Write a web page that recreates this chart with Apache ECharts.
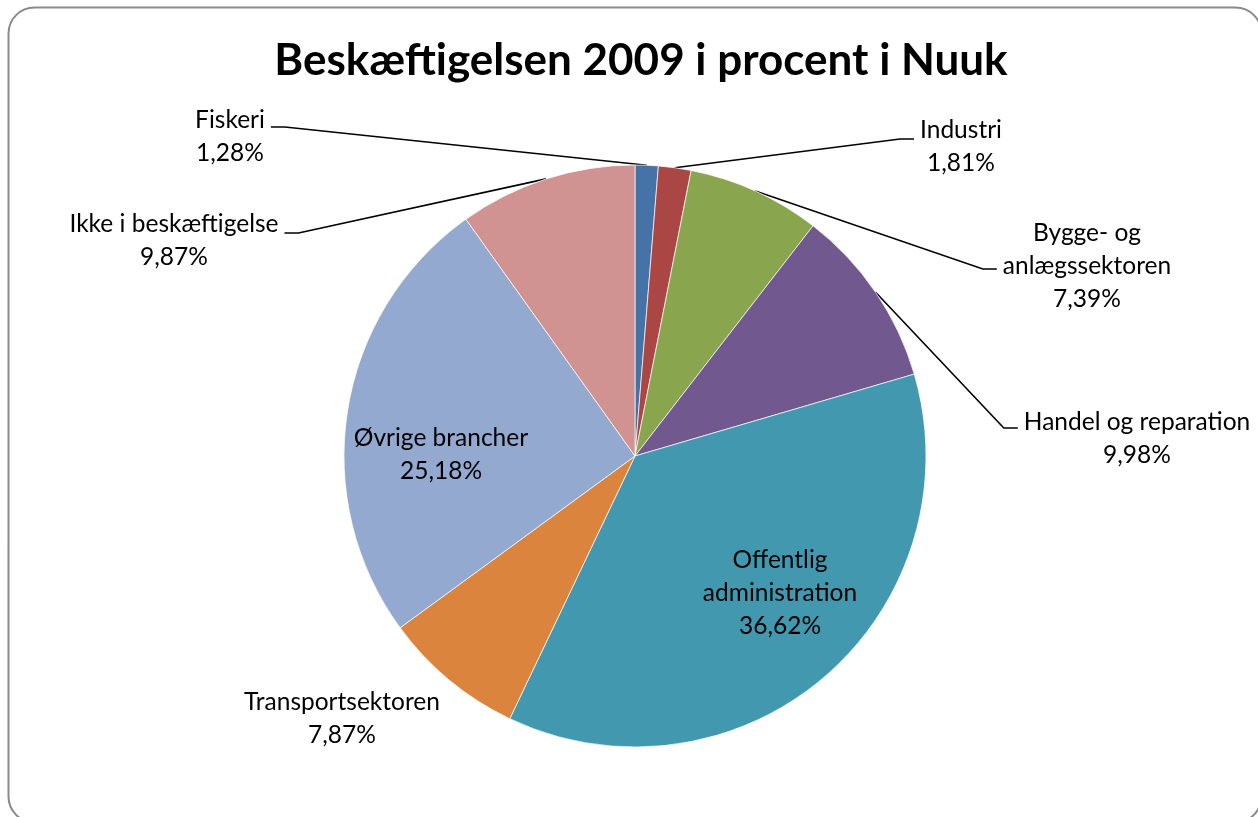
<!DOCTYPE html>
<html>
<head>
<meta charset="utf-8">
<script src="https://cdn.jsdelivr.net/npm/echarts@6/dist/echarts.min.js"></script>
<style>
  html, body { margin: 0; padding: 0; background: #fff; }
  #abc { width: 1258px; height: 817px; }
</style>
</head>
<body>
<div id="abc"></div>
<script>
// data
let categories = ['Fiskeri', 'Industri', 'Bygge- og\nanlægssektoren', 'Handel og reparation',
    'Offentlig\nadministration', 'Transportsektoren', 'Øvrige brancher', 'Ikke i beskæftigelse']
let values = [1.28, 1.81, 7.39, 9.98, 36.62, 7.87, 25.18, 9.87]
let colors = ['#4572A7', '#AA4643', '#89A54E', '#71588F', '#4198AF', '#DB843D', '#93A9CF', '#D19392']

// where each label sits (center x, center y, y of the leader's horizontal part, side of leader)
let labelSpots = [
    [230, 137, 127, 'right'],
    [961, 147, 139, 'left'],
    [1087, 266, 269, 'left'],
    [1137, 439, 428, 'left'],
    [780, 593],
    [342, 719],
    [441, 455],
    [174, 241, 233, 'right']
]
let insideItems = [4, 6]

let myChart = echarts.init(document.getElementById('abc'))

let pieData = []
for (let i in categories) {
    let item = { name: categories[i], value: values[i], itemStyle: { color: colors[i] } }
    if (insideItems.indexOf(+i) >= 0 || +i === 5) {
        item.labelLine = { show: false }
    }
    pieData.push(item)
}

let option = {
    backgroundColor: '#fff',
    animation: false,
    title: {
        text: 'Beskæftigelsen 2009 i procent i Nuuk',
        left: 636,
        top: 34,
        textAlign: 'center',
        textStyle: { fontFamily: 'Lato', fontSize: 44, fontWeight: 'bold', color: '#000' }
    },
    graphic: [{
        type: 'rect',
        shape: { x: 8.5, y: 7.5, width: 1253, height: 815, r: 26 },
        style: { fill: 'none', stroke: '#8a8a8a', lineWidth: 2 },
        silent: true
    }],
    series: [{
        type: 'pie',
        center: [635, 456],
        radius: 291,
        startAngle: 90,
        clockwise: true,
        avoidLabelOverlap: false,
        itemStyle: { borderColor: 'rgba(255,255,255,0.7)', borderWidth: 1 },
        label: {
            show: true,
            formatter: function (p) {
                return p.name + '\n' + p.value.toFixed(2).replace('.', ',') + '%'
            },
            fontFamily: 'Lato',
            fontSize: 24.5,
            lineHeight: 33,
            color: '#000',
            align: 'center'
        },
        labelLine: {
            show: true,
            length: 20,
            length2: 14,
            lineStyle: { color: '#000', width: 1.6 }
        },
        emphasis: { disabled: true },
        labelLayout: function (p) {
            let s = labelSpots[p.dataIndex]
            let out = { x: s[0], y: s[1], align: 'center', verticalAlign: 'middle' }
            if (s.length > 2 && p.labelLinePoints) {
                let a = p.labelLinePoints[0]
                let half = p.labelRect.width / 2
                let end, start
                if (s[3] === 'right') {
                    end = s[0] + half + 6
                    start = end + 14
                } else {
                    end = s[0] - half - 6
                    start = end - 14
                }
                out.labelLinePoints = [[a[0], a[1]], [start, s[2]], [end, s[2]]]
            }
            return out
        },
        data: pieData
    }]
}

myChart.setOption(option)
</script>
</body>
</html>
